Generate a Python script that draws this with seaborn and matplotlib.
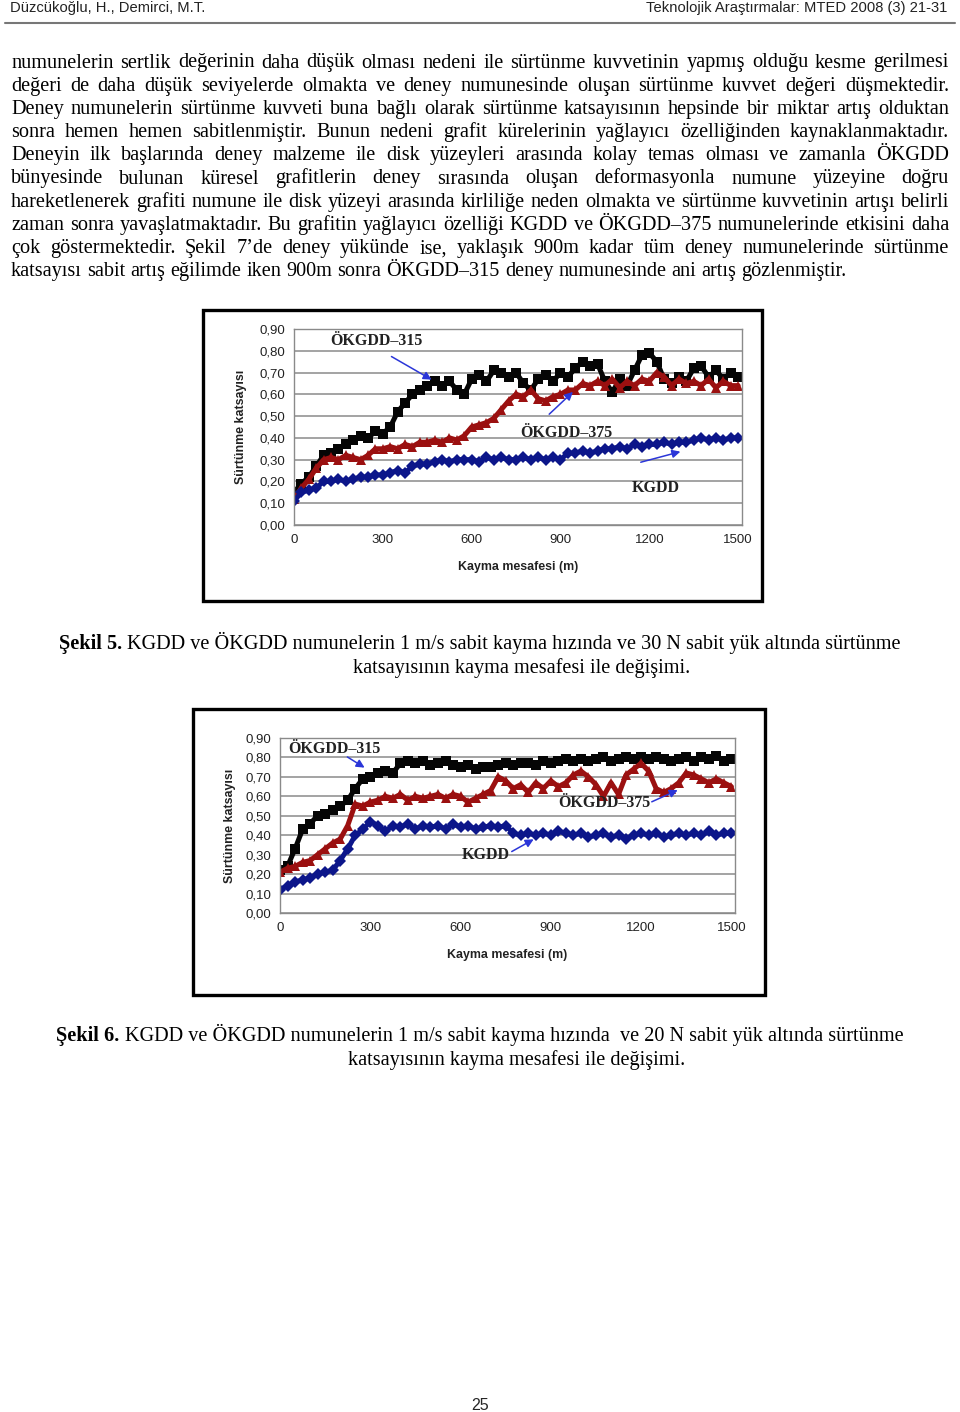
import pandas as pd
import matplotlib
matplotlib.use("Agg")
import matplotlib.pyplot as plt
import seaborn as sns
from matplotlib.patches import Rectangle
from matplotlib.lines import Line2D

# kayma mesafesi (m), her 25 m'de bir okunan degerler
mesafe = list(range(0, 1525, 25))

# Sekil 5 - 30 N
s5_okgdd315 = [0.15, 0.19, 0.22, 0.27, 0.32, 0.33, 0.35, 0.37, 0.39, 0.41, 0.40, 0.43, 0.42, 0.45, 0.52, 0.56,
               0.60, 0.62, 0.64, 0.66, 0.64, 0.66, 0.62, 0.60, 0.67, 0.69, 0.66, 0.71, 0.70, 0.68, 0.70, 0.65,
               0.62, 0.67, 0.69, 0.66, 0.70, 0.68, 0.72, 0.75, 0.73, 0.74, 0.66, 0.61, 0.67, 0.64, 0.71, 0.78,
               0.79, 0.75, 0.67, 0.65, 0.68, 0.66, 0.72, 0.73, 0.68, 0.71, 0.67, 0.70, 0.68]
s5_okgdd375 = [0.12, 0.17, 0.21, 0.26, 0.30, 0.31, 0.30, 0.32, 0.31, 0.30, 0.32, 0.35, 0.35, 0.36, 0.35, 0.37,
               0.36, 0.38, 0.38, 0.39, 0.38, 0.40, 0.39, 0.41, 0.45, 0.46, 0.47, 0.49, 0.53, 0.57, 0.60, 0.59,
               0.62, 0.58, 0.57, 0.59, 0.60, 0.62, 0.62, 0.65, 0.64, 0.66, 0.64, 0.67, 0.63, 0.66, 0.64, 0.67,
               0.66, 0.70, 0.68, 0.64, 0.67, 0.65, 0.66, 0.64, 0.67, 0.63, 0.66, 0.64, 0.64]
s5_kgdd = [0.11, 0.15, 0.16, 0.17, 0.20, 0.20, 0.21, 0.20, 0.21, 0.22, 0.22, 0.23, 0.23, 0.24, 0.25, 0.24,
           0.27, 0.28, 0.28, 0.29, 0.30, 0.29, 0.30, 0.30, 0.30, 0.29, 0.31, 0.30, 0.31, 0.30, 0.30, 0.31,
           0.30, 0.31, 0.30, 0.31, 0.30, 0.33, 0.33, 0.34, 0.33, 0.34, 0.35, 0.35, 0.36, 0.35, 0.37, 0.36,
           0.37, 0.37, 0.38, 0.37, 0.38, 0.38, 0.39, 0.40, 0.39, 0.40, 0.39, 0.40, 0.40]

# Sekil 6 - 20 N
s6_okgdd315 = [0.22, 0.24, 0.33, 0.43, 0.46, 0.50, 0.51, 0.53, 0.55, 0.58, 0.64, 0.69, 0.70, 0.72, 0.73, 0.72,
               0.77, 0.78, 0.77, 0.78, 0.76, 0.77, 0.78, 0.76, 0.75, 0.76, 0.74, 0.75, 0.75, 0.76, 0.77, 0.76,
               0.77, 0.77, 0.76, 0.78, 0.77, 0.78, 0.79, 0.78, 0.79, 0.78, 0.79, 0.80, 0.78, 0.79, 0.80, 0.79,
               0.80, 0.79, 0.80, 0.79, 0.78, 0.79, 0.80, 0.78, 0.80, 0.79, 0.81, 0.78, 0.79]
s6_okgdd375 = [0.21, 0.23, 0.24, 0.26, 0.27, 0.30, 0.33, 0.36, 0.38, 0.45, 0.56, 0.55, 0.57, 0.58, 0.60, 0.59,
               0.61, 0.58, 0.60, 0.59, 0.60, 0.61, 0.59, 0.61, 0.60, 0.57, 0.59, 0.61, 0.63, 0.70, 0.68, 0.64,
               0.66, 0.62, 0.67, 0.64, 0.68, 0.65, 0.67, 0.71, 0.73, 0.70, 0.66, 0.60, 0.67, 0.61, 0.71, 0.74,
               0.77, 0.73, 0.64, 0.62, 0.64, 0.67, 0.72, 0.71, 0.69, 0.67, 0.69, 0.67, 0.65]
s6_kgdd = [0.12, 0.14, 0.16, 0.17, 0.18, 0.20, 0.21, 0.22, 0.27, 0.33, 0.40, 0.43, 0.47, 0.45, 0.42, 0.45,
           0.44, 0.46, 0.43, 0.45, 0.44, 0.45, 0.43, 0.46, 0.44, 0.45, 0.43, 0.44, 0.45, 0.44, 0.45, 0.41,
           0.40, 0.41, 0.40, 0.41, 0.40, 0.42, 0.41, 0.40, 0.41, 0.39, 0.40, 0.41, 0.39, 0.40, 0.38, 0.40,
           0.41, 0.40, 0.41, 0.39, 0.40, 0.41, 0.40, 0.41, 0.40, 0.42, 0.40, 0.41, 0.41]

numuneler = ["ÖKGDD–315", "ÖKGDD–375", "KGDD"]
xticks = [0, 300, 600, 900, 1200, 1500]
yticks = [0.0, 0.1, 0.2, 0.3, 0.4, 0.5, 0.6, 0.7, 0.8, 0.9]
ytick_etiket = ["0,00", "0,10", "0,20", "0,30", "0,40", "0,50", "0,60", "0,70", "0,80", "0,90"]

paragraf = [
    "numunelerin sertlik değerinin daha düşük olması nedeni ile sürtünme kuvvetinin yapmış olduğu kesme gerilmesi",
    "değeri de daha düşük seviyelerde olmakta ve deney numunesinde oluşan sürtünme kuvvet değeri düşmektedir.",
    "Deney numunelerin sürtünme kuvveti buna bağlı olarak sürtünme katsayısının hepsinde bir miktar artış olduktan",
    "sonra hemen hemen sabitlenmiştir. Bunun nedeni grafit kürelerinin yağlayıcı özelliğinden kaynaklanmaktadır.",
    "Deneyin ilk başlarında deney malzeme ile disk yüzeyleri arasında kolay temas olması ve zamanla ÖKGDD",
    "bünyesinde bulunan küresel grafitlerin deney sırasında oluşan deformasyonla numune yüzeyine doğru",
    "hareketlenerek grafiti numune ile disk yüzeyi arasında kirliliğe neden olmakta ve sürtünme kuvvetinin artışı belirli",
    "zaman sonra yavaşlatmaktadır. Bu grafitin yağlayıcı özelliği KGDD ve ÖKGDD–375 numunelerinde etkisini daha",
    "çok göstermektedir.  Şekil 7’de deney yükünde ise, yaklaşık 900m kadar tüm deney numunelerinde sürtünme",
    "katsayısı sabit artış eğilimde iken 900m sonra ÖKGDD–315 deney numunesinde ani artış gözlenmiştir.",
]

sns.set_style("white")
plt.rcParams["font.family"] = ["Liberation Serif", "DejaVu Serif"]

W, H = 960, 1412
fig = plt.figure(figsize=(W / 100, H / 100), dpi=100)
r = fig.canvas.get_renderer()


def fx(x):
    return x / W


def fy(y):
    return 1 - y / H


def genislik(t):
    return t.get_window_extent(r).width


def bosluk_gen(**kw):
    a = fig.text(0, 0, "a a", **kw)
    b = fig.text(0, 0, "aa", **kw)
    g = genislik(a) - genislik(b)
    a.remove()
    b.remove()
    return g


govde = dict(fontsize=14.6, family="Liberation Serif", color="black")


def satir(metin, y, sol=11, sag=949, yasla=True):
    kelimeler = metin.split()
    parca = [fig.text(0, fy(y), k, ha="left", va="baseline", **govde) for k in kelimeler]
    gen = [genislik(p) for p in parca]
    if yasla:
        bos = (sag - sol - sum(gen)) / (len(kelimeler) - 1)
    else:
        bos = bosluk_gen(**govde)
    x = sol
    for p, g in zip(parca, gen):
        p.set_x(fx(x))
        x += g + bos


# ust bilgi
ust = dict(fontsize=10.6, family="Liberation Sans", color="#222222")
fig.text(fx(10), fy(12), "Düzcükoğlu, H., Demirci, M.T.", ha="left", va="baseline", **ust)
fig.text(fx(947), fy(12), "Teknolojik Araştırmalar: MTED 2008 (3) 21-31", ha="right", va="baseline", **ust)
fig.add_artist(Line2D([fx(5), fx(955)], [fy(23), fy(23)], color="#777777", lw=1.5))

for i, s in enumerate(paragraf):
    satir(s, 67.5 + i * 23.2, yasla=(i < len(paragraf) - 1))


def altyazi(kalin, normal, y1, ikinci, y2, x2):
    a = fig.text(0, fy(y1), kalin, ha="left", va="baseline", fontweight="bold", **govde)
    b = fig.text(0, fy(y1), normal, ha="left", va="baseline", **govde)
    bos = bosluk_gen(**govde)
    toplam = genislik(a) + bos + genislik(b)
    x0 = 480 - toplam / 2
    a.set_x(fx(x0))
    b.set_x(fx(x0 + genislik(a) + bos))
    fig.text(fx(x2), fy(y2), ikinci, ha="left", va="baseline", **govde)


altyazi("Şekil 5.", "KGDD ve ÖKGDD numunelerin 1 m/s sabit kayma hızında ve 30 N sabit yük altında sürtünme",
        649.5, "katsayısının kayma mesafesi ile değişimi.", 672.5, 353)
altyazi("Şekil 6.", "KGDD ve ÖKGDD numunelerin 1 m/s sabit kayma hızında  ve 20 N sabit yük altında sürtünme",
        1041.5, "katsayısının kayma mesafesi ile değişimi.", 1064.5, 348)

fig.text(fx(480), fy(1410), "25", ha="center", va="baseline", fontsize=11.5, family="Liberation Sans")

renkler = {"ÖKGDD–315": "#050505", "ÖKGDD–375": "#9b1010", "KGDD": "#0c168a"}
isaret = {"ÖKGDD–315": "s", "ÖKGDD–375": "^", "KGDD": "D"}
ok_renk = "#2b36d8"


def grafik(kutu, eksen, seriler, etiketler, xlim_sag, ylab_x, xlab_y):
    x0, y0, x1, y1 = kutu
    fig.add_artist(Rectangle((fx(x0), fy(y1)), fx(x1 - x0), (y1 - y0) / H, fill=False,
                             edgecolor="black", lw=2.4, transform=fig.transFigure))
    l, t, rr, b = eksen
    ax = fig.add_axes([fx(l), fy(b), fx(rr - l), (b - t) / H])
    df = pd.concat([pd.DataFrame({"mesafe": mesafe, "katsayi": v, "numune": n})
                    for n, v in zip(numuneler, seriler)])
    sns.lineplot(data=df, x="mesafe", y="katsayi", hue="numune", style="numune",
                 hue_order=numuneler, style_order=numuneler, palette=renkler, markers=isaret,
                 dashes=False, linewidth=3.6, markersize=6.5, markeredgewidth=0, legend=False, ax=ax)
    ax.set_xlim(0, xlim_sag)
    ax.set_ylim(0, 0.9)
    ax.set_xticks(xticks)
    ax.set_xticklabels([str(v) for v in xticks])
    ax.set_yticks(yticks)
    ax.set_yticklabels(ytick_etiket)
    ax.yaxis.grid(True, color="#8a8a8a", lw=1.1)
    ax.set_axisbelow(True)
    for sp in ax.spines.values():
        sp.set_color("#8a8a8a")
        sp.set_linewidth(1)
    ax.tick_params(axis="both", direction="out", length=4, width=0.8, color="#8a8a8a",
                   labelsize=9.5, labelcolor="#222222", pad=2.5)
    for lab in ax.get_xticklabels() + ax.get_yticklabels():
        lab.set_family("Liberation Sans")
    ax.set_xlabel("Kayma mesafesi (m)", fontsize=8.9, fontweight="bold", family="Liberation Sans", color="#222222")
    ax.set_ylabel("Sürtünme katsayısı", fontsize=8.9, fontweight="bold", family="Liberation Sans", color="#222222")
    ax.xaxis.label.set_va("center")
    ax.yaxis.label.set_va("center")
    ax.xaxis.set_label_coords(0.5, xlab_y)
    ax.yaxis.set_label_coords(ylab_x, 0.5)
    for metin, pos, kuyruk, bas in etiketler:
        ax.text(pos[0], pos[1], metin, ha="center", va="center", fontsize=11.5, fontweight="bold",
                family="Liberation Serif", color="#222222")
        ax.annotate("", xy=bas, xytext=kuyruk,
                    arrowprops=dict(arrowstyle="-|>", color=ok_renk, lw=1.1, mutation_scale=12))
    return ax


grafik((203, 310, 762, 601), (294, 329, 742, 525), [s5_okgdd315, s5_okgdd375, s5_kgdd],
       [("ÖKGDD–315", (280, 0.845), (321, 0.78), (473, 0.661)),
        ("ÖKGDD–375", (919, 0.422), (855, 0.50), (949, 0.62)),
        ("KGDD", (1220, 0.17), (1162, 0.285), (1314, 0.34))],
       1513, -0.118, -0.214)

grafik((193, 709, 765, 995), (280, 738, 735, 913), [s6_okgdd315, s6_okgdd375, s6_kgdd],
       [("ÖKGDD–315", (180, 0.843), (216, 0.81), (289, 0.74)),
        ("ÖKGDD–375", (1078, 0.566), (1227, 0.566), (1330, 0.638)),
        ("KGDD", (685, 0.298), (762, 0.309), (851, 0.386))],
       1512, -0.11, -0.24)

fig.savefig("out.png", dpi=100)
